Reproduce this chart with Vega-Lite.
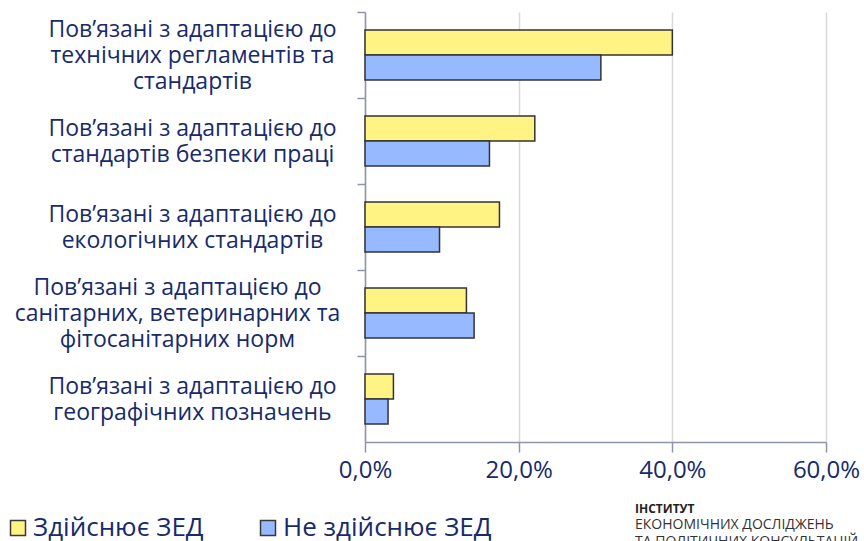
{
  "$schema": "https://vega.github.io/schema/vega-lite/v6.json",
  "width": 461,
  "height": 430,
  "autosize": {"type": "none"},
  "padding": {"left": 365, "top": 12, "right": 38, "bottom": 99},
  "background": "white",
  "config": {
    "font": "Open Sans",
    "view": {"stroke": null}
  },
  "title": {
    "text": "ІНСТИТУТ",
    "subtitle": ["ЕКОНОМІЧНИХ ДОСЛІДЖЕНЬ", "ТА ПОЛІТИЧНИХ КОНСУЛЬТАЦІЙ"],
    "orient": "bottom",
    "anchor": "start",
    "frame": "group",
    "dx": 270,
    "offset": -37,
    "fontSize": 12,
    "fontWeight": "bold",
    "color": "#222222",
    "subtitleFontSize": 14,
    "subtitleColor": "#333333",
    "subtitleLineHeight": 17,
    "subtitlePadding": 2
  },
  "data": {
    "values": [
      {"cat": "Пов’язані з адаптацією до|технічних регламентів та|стандартів", "group": "Здійснює ЗЕД", "value": 0.400},
      {"cat": "Пов’язані з адаптацією до|технічних регламентів та|стандартів", "group": "Не здійснює ЗЕД", "value": 0.307},
      {"cat": "Пов’язані з адаптацією до|стандартів безпеки праці", "group": "Здійснює ЗЕД", "value": 0.221},
      {"cat": "Пов’язані з адаптацією до|стандартів безпеки праці", "group": "Не здійснює ЗЕД", "value": 0.162},
      {"cat": "Пов’язані з адаптацією до|екологічних стандартів", "group": "Здійснює ЗЕД", "value": 0.175},
      {"cat": "Пов’язані з адаптацією до|екологічних стандартів", "group": "Не здійснює ЗЕД", "value": 0.097},
      {"cat": "Пов’язані з адаптацією до|санітарних, ветеринарних та|фітосанітарних норм", "group": "Здійснює ЗЕД", "value": 0.132},
      {"cat": "Пов’язані з адаптацією до|санітарних, ветеринарних та|фітосанітарних норм", "group": "Не здійснює ЗЕД", "value": 0.142},
      {"cat": "Пов’язані з адаптацією до|географічних позначень", "group": "Здійснює ЗЕД", "value": 0.037},
      {"cat": "Пов’язані з адаптацією до|географічних позначень", "group": "Не здійснює ЗЕД", "value": 0.030}
    ]
  },
  "mark": {"type": "bar", "stroke": "#333333", "strokeWidth": 1.5},
  "encoding": {
    "y": {
      "field": "cat",
      "type": "nominal",
      "sort": null,
      "scale": {"paddingInner": 0.42, "paddingOuter": 0.21},
      "axis": {
        "title": null,
        "labelExpr": "split(datum.label, '|')",
        "labelAlign": "center",
        "labelBaseline": "middle",
        "labelPadding": {"condition": {"test": "indexof(datum.value, 'санітарних') >= 0", "value": 180}, "value": 165},
        "labelLimit": 400,
        "labelFontSize": 23,
        "labelLineHeight": 26,
        "labelColor": "#172B6B",
        "domainColor": "#8E95A8",
        "domainWidth": 1.5,
        "tickColor": "#8E95A8",
        "tickWidth": 1.5,
        "tickSize": 8,
        "tickOffset": -43,
        "labelOffset": {"condition": {"test": "length(split(datum.value, '|')) == 3", "value": 17}, "value": 30}
      }
    },
    "yOffset": {
      "field": "group",
      "type": "nominal",
      "sort": ["Здійснює ЗЕД", "Не здійснює ЗЕД"],
      "scale": {"paddingInner": 0, "paddingOuter": 0}
    },
    "x": {
      "field": "value",
      "type": "quantitative",
      "scale": {"domain": [0, 0.6], "nice": false},
      "axis": {
        "title": null,
        "values": [0, 0.2, 0.4, 0.6],
        "labelExpr": "replace(format(datum.value, '.1%'), '.', ',')",
        "labelFontSize": 24,
        "labelColor": "#172B6B",
        "labelPadding": 6,
        "labelFlush": false,
        "grid": true,
        "gridColor": "#D9D9D9",
        "gridWidth": 1.5,
        "domainColor": "#8E95A8",
        "domainWidth": 1.5,
        "tickColor": "#8E95A8",
        "tickWidth": 1.5,
        "tickSize": 10
      }
    },
    "color": {
      "field": "group",
      "type": "nominal",
      "sort": ["Здійснює ЗЕД", "Не здійснює ЗЕД"],
      "scale": {"domain": ["Здійснює ЗЕД", "Не здійснює ЗЕД"], "range": ["#FFF383", "#97B9FF"]},
      "legend": {
        "title": null,
        "orient": "none",
        "direction": "horizontal",
        "legendX": -360,
        "legendY": 503,
        "padding": 0,
        "symbolType": "square",
        "symbolSize": 225,
        "symbolStrokeColor": "#3A3A3A",
        "symbolStrokeWidth": 1.5,
        "labelFontSize": 26,
        "labelLimit": 400,
        "labelColor": "#172B6B",
        "labelOffset": 2,
        "columnPadding": 51
      }
    }
  }
}
